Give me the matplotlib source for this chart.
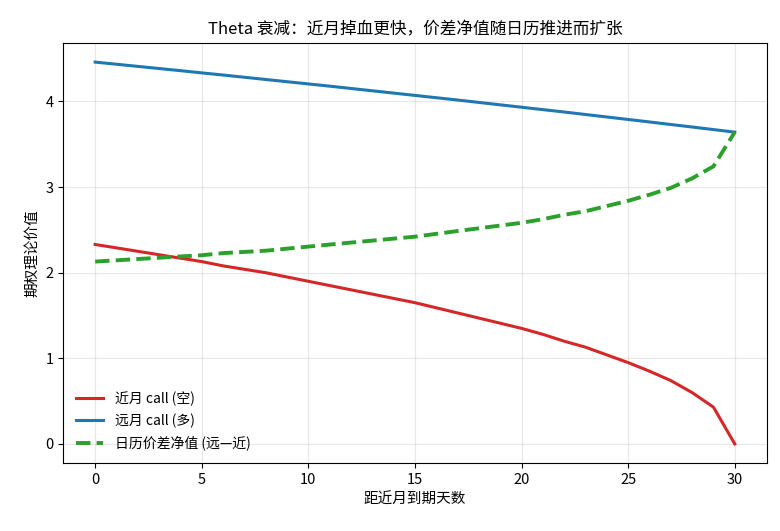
import numpy as np
import matplotlib
matplotlib.use('Agg')
import matplotlib.pyplot as plt

plt.rcParams['font.family'] = ['Noto Sans CJK SC', 'DejaVu Sans']
plt.rcParams['axes.unicode_minus'] = False

# days elapsed since start, value of near / far month call
days = np.arange(0, 31)
near_call = [2.33, 2.29, 2.25, 2.21, 2.17, 2.13, 2.08, 2.04, 2.00, 1.95,
             1.90, 1.85, 1.80, 1.75, 1.70, 1.65, 1.59, 1.53, 1.47, 1.41,
             1.35, 1.28, 1.20, 1.13, 1.04, 0.95, 0.85, 0.74, 0.60, 0.43,
             0.00]
far_call = [4.46, 4.435, 4.41, 4.385, 4.36, 4.334, 4.309, 4.283, 4.257, 4.231,
            4.205, 4.179, 4.152, 4.125, 4.098, 4.071, 4.044, 4.017, 3.989, 3.961,
            3.933, 3.905, 3.877, 3.848, 3.819, 3.790, 3.761, 3.731, 3.702, 3.672,
            3.642]
spread = np.array(far_call) - np.array(near_call)

fig, ax = plt.subplots(figsize=(7.8, 5.31), dpi=100)
fig.subplots_adjust(left=0.081, right=0.983, top=0.919, bottom=0.128)

ax.plot(days, near_call, color='#d62728', lw=2.2, label='近月 call (空)')
ax.plot(days, far_call, color='#1f77b4', lw=2.2, label='远月 call (多)')
ax.plot(days, spread, color='#2ca02c', lw=2.8, ls='--', label='日历价差净值 (远—近)')

ax.set_title('Theta 衰减：近月掉血更快，价差净值随日历推进而扩张', fontsize=12)
ax.set_xlabel('距近月到期天数', fontsize=10.5)
ax.set_ylabel('期权理论价值', fontsize=10.5)
ax.grid(True, alpha=0.3)
ax.tick_params(labelsize=10.5)
ax.legend(loc='lower left', frameon=False, fontsize=10, labelspacing=0.55)

plt.savefig('out.png')
